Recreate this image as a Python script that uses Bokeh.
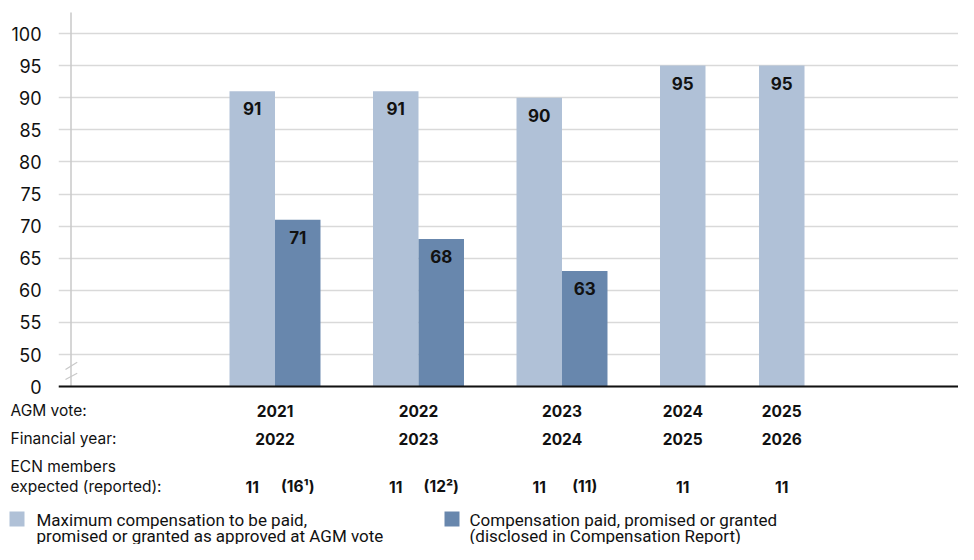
from bokeh.plotting import figure
from bokeh.layouts import column
from bokeh.models import Range1d, FixedTicker, Span, ColumnDataSource
from bokeh.core.properties import value
from bokeh.embed import file_html
from bokeh.resources import INLINE

# ---------------- data ----------------
agm_vote = ["2021", "2022", "2023", "2024", "2025"]
financial_year = ["2022", "2023", "2024", "2025", "2026"]
max_compensation = [91, 91, 90, 95, 95]
paid_compensation = [71, 68, 63, None, None]
ecn_expected = ["11", "11", "11", "11", "11"]
ecn_reported = ["(16\u00b9)", "(12\u00b2)", "(11)", "", ""]
y_tick_values = [0, 50, 55, 60, 65, 70, 75, 80, 85, 90, 95, 100]
row_labels = ["AGM vote:", "Financial year:", "ECN members", "expected (reported):"]
legend_max = ["Maximum compensation to be paid,", "promised or granted as approved at AGM vote"]
legend_paid = ["Compensation paid, promised or granted", "(disclosed in Compensation Report)"]

# ---------------- style / layout ----------------
LIGHT = "#b0c1d7"
DARK = "#6887ad"
GRID = "#d9d9d9"
AXIS_GREY = "#c8c8c8"
TXT = "#111111"
FONT = "Inter"
LEG_FONT = "Roboto"
GROUP_POS = [0, 1, 2, 3, 3.69]
BAR_W = 0.317
W = 958
H_CHART, H_TABLE = 402, 142
FRAME_LEFT = 58
PX_PER_X = 143.5          # pixels per group step
X0_PIX = 274.5            # pixel position of the first group centre
PX_PER_Y = 6.42
Y100_PIX = 33


def disp(v):
    # broken axis: 0..50 compressed into one 5-unit step
    return v if v >= 50 else int(round(45 + v * 0.1))


def xdata(px):
    return (px - X0_PIX) / PX_PER_X


BASE = disp(0)

# ================= chart =================
p = figure(width=W, height=H_CHART,
           x_range=Range1d(xdata(FRAME_LEFT), xdata(W)),
           y_range=Range1d(100 - (H_CHART - Y100_PIX) / PX_PER_Y, 100 + Y100_PIX / PX_PER_Y),
           output_backend="svg", toolbar_location=None, x_axis_location=None,
           min_border_left=FRAME_LEFT, min_border_right=0, min_border_top=0, min_border_bottom=0)
p.frame_align = False
p.extra_x_ranges = {"px": Range1d(FRAME_LEFT, W)}
p.extra_y_ranges = {"px": Range1d(H_CHART, 0)}
p.outline_line_color = None

ax = p.yaxis[0]
ax.ticker = FixedTicker(ticks=[disp(t) for t in y_tick_values])
ax.major_label_overrides = {disp(t): str(t) for t in y_tick_values}
ax.axis_line_color = None
ax.major_tick_line_color = None
ax.minor_tick_line_color = None
ax.major_label_standoff = 11
ax.major_label_text_font = FONT
ax.major_label_text_font_size = "18px"
ax.major_label_text_color = TXT

p.xgrid.visible = False
p.ygrid.grid_line_color = GRID
p.ygrid.grid_line_width = 1.5

# vertical axis line and break marks
axis_x = xdata(70.5)
p.segment(x0=[axis_x], y0=[BASE], x1=[axis_x], y1=[100 + (Y100_PIX - 12) / PX_PER_Y],
          line_color=AXIS_GREY, line_width=1.5)
p.segment(x0=[65, 65], y0=[369, 379], x1=[76.7, 76.7], y1=[361.7, 372.7],
          x_range_name="px", y_range_name="px", line_color=AXIS_GREY, line_width=1.2)

# bars
has_paid = [v is not None for v in paid_compensation]
light_x = [g - BAR_W / 2 for g in GROUP_POS]
dark_x_all = [g + BAR_W / 2 for g in GROUP_POS]
dark_idx = [i for i, h in enumerate(has_paid) if h]
dark_x = [dark_x_all[i] for i in dark_idx]
dark_v = [paid_compensation[i] for i in dark_idx]

src_l = ColumnDataSource(dict(x=light_x, top=[disp(v) for v in max_compensation],
                              lab=[str(v) for v in max_compensation]))
src_d = ColumnDataSource(dict(x=dark_x, top=[disp(v) for v in dark_v], lab=[str(v) for v in dark_v]))

p.vbar(x="x", top="top", bottom=BASE, width=BAR_W, source=src_l, fill_color=LIGHT, line_color=None)
p.vbar(x="x", top="top", bottom=BASE, width=BAR_W, source=src_d, fill_color=DARK, line_color=None)

for s in (src_l, src_d):
    p.text(x="x", y="top", text="lab", source=s, text_align="center", text_baseline="top",
           y_offset=11, text_font=value(FONT), text_font_style="bold", text_font_size="17px",
           text_color=TXT)

p.add_layout(Span(location=BASE, dimension="width", line_color=TXT, line_width=2))

# ================= table + legend =================
t = figure(width=W, height=H_TABLE, x_range=Range1d(xdata(0), xdata(W)),
           y_range=Range1d(H_TABLE, 0), output_backend="svg", toolbar_location=None,
           x_axis_location=None, y_axis_location=None,
           min_border_left=0, min_border_right=0, min_border_top=0, min_border_bottom=0)
t.frame_align = False
t.extra_x_ranges = {"px": Range1d(0, W)}
t.outline_line_color = None
t.xgrid.visible = False
t.ygrid.visible = False

ROW_Y = [y - H_CHART for y in (410, 438, 466, 486)]
label_x = [GROUP_POS[i] if has_paid[i] else light_x[i] for i in range(len(agm_vote))]
tab = ColumnDataSource(dict(x=label_x, agm=agm_vote, fy=financial_year))
common = dict(text_align="center", text_baseline="middle", text_font=value(FONT),
              text_font_style="bold", text_font_size="15.5px", text_color=TXT)
t.text(x="x", y=ROW_Y[0], text="agm", source=tab, **common)
t.text(x="x", y=ROW_Y[1], text="fy", source=tab, **common)
t.text(x=light_x, y=[ROW_Y[3]] * len(light_x), text=ecn_expected, **common)
t.text(x=dark_x_all, y=[ROW_Y[3]] * len(dark_x_all), text=ecn_reported, **common)

t.text(x=[10] * len(row_labels), y=ROW_Y, text=row_labels, x_range_name="px",
       text_align="left", text_baseline="middle", text_font=value(FONT),
       text_font_size="15.5px", text_color=TXT)

# legend
LEG_Y1, LEG_Y2 = 519 - H_CHART, 535 - H_CHART
for (sx, tx, col, lines) in ((9, 36, LIGHT, legend_max), (444, 469, DARK, legend_paid)):
    t.quad(left=[sx], right=[sx + 15], top=[LEG_Y1 - 8], bottom=[LEG_Y1 + 7], x_range_name="px",
           fill_color=col, line_color=None)
    t.text(x=[tx, tx], y=[LEG_Y1, LEG_Y2], text=lines, x_range_name="px",
           text_align="left", text_baseline="middle", text_font=value(LEG_FONT),
           text_font_size="17px", text_color=TXT)

layout = column(p, t, spacing=0)
open("out.html", "w").write(file_html(layout, INLINE))
